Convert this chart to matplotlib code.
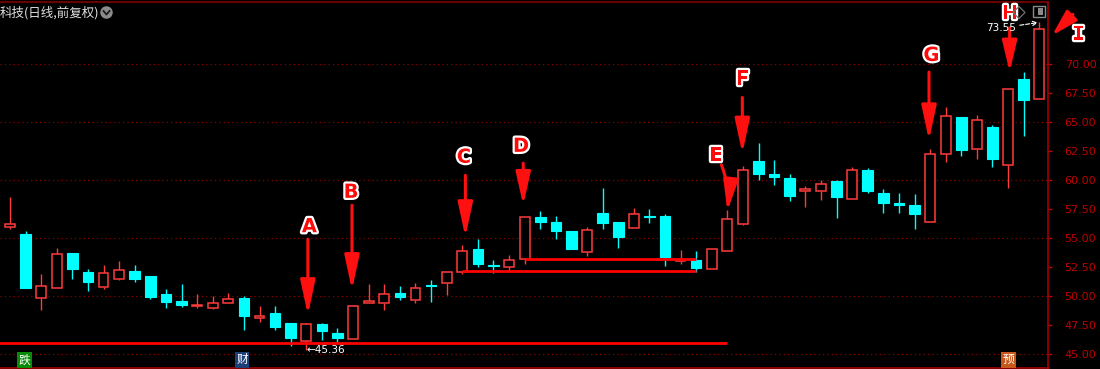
import matplotlib
matplotlib.use('Agg')
import matplotlib.pyplot as plt
from matplotlib.patches import FancyArrowPatch, ArrowStyle, Ellipse, Rectangle
from matplotlib.lines import Line2D
import matplotlib.patheffects as pe

plt.rcParams['font.family'] = ['DejaVu Sans', 'Noto Sans CJK SC']

# ---------------- data (daily OHLC) ----------------
opens = [55.96, 55.33, 49.89, 50.72, 53.70, 52.07, 50.81, 51.52, 52.15, 51.78,
         50.23, 49.55, 49.15, 49.00, 49.46, 49.83, 48.09, 48.52, 47.74, 46.14,
         47.57, 46.80, 46.28, 49.45, 49.38, 50.26, 49.69, 50.95, 51.15, 52.10,
         54.04, 52.70, 52.53, 53.16, 56.79, 56.36, 55.59, 53.81, 57.14, 56.36,
         55.90, 56.88, 56.88, 53.00, 53.10, 52.35, 53.85, 56.25, 61.61, 60.49,
         60.15, 59.06, 59.06, 59.89, 58.37, 60.89, 58.89, 58.03, 57.83, 56.40,
         62.27, 65.39, 62.70, 64.53, 61.32, 68.65, 66.99]
highs = [58.54, 55.59, 51.89, 54.13, 53.70, 52.32, 52.67, 53.04, 52.67, 51.78,
         50.61, 51.09, 50.23, 50.06, 50.32, 50.06, 49.15, 49.20, 47.74, 47.74,
         47.66, 47.23, 49.23, 51.01, 51.09, 50.86, 51.15, 51.38, 52.12, 54.39,
         54.90, 53.10, 53.53, 56.85, 57.31, 56.88, 55.59, 55.96, 59.31, 56.36,
         57.59, 57.48, 57.08, 53.96, 53.87, 54.10, 57.40, 61.21, 63.18, 61.69,
         60.49, 59.46, 60.03, 60.03, 61.12, 61.03, 59.26, 58.92, 58.77, 62.64,
         66.28, 65.39, 65.56, 64.76, 67.85, 69.28, 73.55]
lows = [55.82, 50.72, 48.80, 50.72, 51.46, 50.43, 50.61, 51.38, 51.24, 49.72,
        49.00, 49.09, 49.00, 48.89, 49.46, 47.08, 47.80, 47.08, 45.74, 45.36,
        46.22, 46.08, 46.28, 49.38, 48.80, 49.66, 49.43, 49.52, 50.09, 51.90,
        52.53, 52.04, 52.24, 52.75, 55.76, 54.96, 54.07, 53.44, 55.76, 54.16,
        55.90, 56.30, 52.61, 52.73, 52.10, 52.35, 53.85, 56.11, 59.98, 59.55,
        58.20, 57.68, 58.26, 56.74, 58.37, 58.92, 57.17, 57.17, 55.77, 56.40,
        61.55, 62.07, 61.84, 61.12, 59.32, 63.79, 66.99]
closes = [56.25, 50.72, 50.86, 53.67, 52.30, 51.24, 52.04, 52.24, 51.44, 49.95,
          49.52, 49.26, 49.26, 49.46, 49.75, 48.32, 48.29, 47.37, 46.42, 47.57,
          47.03, 46.42, 49.15, 49.55, 50.23, 49.95, 50.75, 50.90, 52.12, 53.87,
          52.78, 52.62, 53.10, 56.85, 56.39, 55.62, 54.07, 55.73, 56.31, 55.10,
          57.05, 56.83, 53.38, 53.10, 52.44, 54.10, 56.68, 60.83, 60.52, 60.26,
          58.63, 59.26, 59.63, 58.54, 60.89, 59.03, 58.03, 57.85, 57.11, 62.27,
          65.47, 62.55, 65.13, 61.81, 67.85, 66.91, 73.00]

price_ticks = [45.0, 47.5, 50.0, 52.5, 55.0, 57.5, 60.0, 62.5, 65.0, 67.5, 70.0]
price_tick_labels = ['45.00', '47.50', '50.00', '52.50', '55.00', '57.50',
                     '60.00', '62.50', '65.00', '67.50', '70.00']
grid_levels = [45.0, 50.0, 55.0, 60.0, 65.0, 70.0]

# horizontal support lines: price level, first candle, last candle
support_levels = [46.00, 53.18, 52.21]
support_start = [-0.7, 33, 29]
support_end = [46, 44, 44]

signal_letters = ['A', 'B', 'C', 'D', 'E', 'F', 'G', 'H', 'I']

title_text = '科技(日线,前复权)'
low_label = '←45.36'
high_label = '73.55'
bottom_marks = ['跌', '财', '预']
bottom_mark_idx = [0.93, 14.88, 64.03]
bottom_mark_colors = ['#078a07', '#1d3f78', '#c8581a']

# ---------------- styling ----------------
RED = '#ff3c3c'
CYAN = '#00ffff'
ARROW_RED = '#ff1010'
AX_RED = '#c00000'

W, H = 1100, 369
fig = plt.figure(figsize=(W / 100, H / 100), dpi=100, facecolor='black')
ax = fig.add_axes([0, 1.5 / H, 1048 / W, 366 / H])
ax.set_facecolor('black')

n = len(opens)
xs = list(range(n))
ax.set_xlim(-0.641, 66.56)
ax.set_ylim(43.87, 75.35)

# grid
for g in grid_levels:
    ax.axhline(g, color='#8a0000', lw=0.9, ls=(0, (1, 2.5)), zorder=0)

# candles
up_x, up_b, up_h, dn_x, dn_b, dn_h = [], [], [], [], [], []
for i in xs:
    o, h, l, c = opens[i], highs[i], lows[i], closes[i]
    top, bot = max(o, c), min(o, c)
    col = RED if c >= o else CYAN
    if h > top:
        ax.vlines(i, top, h, color=col, lw=1.0, zorder=2)
    if l < bot:
        ax.vlines(i, l, bot, color=col, lw=1.0, zorder=2)
    if c >= o:
        up_x.append(i); up_b.append(o); up_h.append(c - o)
    else:
        dn_x.append(i); dn_b.append(c); dn_h.append(o - c)

ax.bar(up_x, up_h, bottom=up_b, width=0.63, facecolor='black',
       edgecolor=RED, linewidth=1.1, zorder=3)
ax.bar(dn_x, dn_h, bottom=dn_b, width=0.68, facecolor=CYAN,
       edgecolor=CYAN, linewidth=0.8, zorder=3)

# support lines
for lvl, s, e in zip(support_levels, support_start, support_end):
    ax.hlines(lvl, s, e, color='#ff0000', lw=2.0, zorder=4)

# axes / ticks
ax.yaxis.tick_right()
ax.set_yticks(price_ticks)
ax.set_yticklabels(price_tick_labels)
ax.tick_params(axis='y', colors=AX_RED, length=3, width=0.9, pad=9,
               labelsize=8, direction='out')
ax.set_xticks([])
ax.spines['left'].set_visible(False)
ax.spines['right'].set_color('#b00000')
ax.spines['bottom'].set_color('#b00000')
ax.spines['top'].set_color('#8a0000')
for s in ['right', 'bottom', 'top']:
    ax.spines[s].set_linewidth(1.1)

# signal letters and arrows (layout positions in candle-index / price space)
letter_pos = [(19.2, 55.98), (21.87, 58.94), (29.11, 61.95), (32.77, 62.89),
              (45.27, 62.11), (46.97, 68.67), (59.09, 70.71), (64.12, 74.28),
              (68.52, 72.52)]
arrow_paths = [((19.1, 54.91), (19.1, 48.38), 0.0, 2.1),
               ((21.93, 57.83), (21.93, 50.53), 0.0, 2.1),
               ((29.2, 60.40), (29.2, 55.08), 0.0, 2.1),
               ((32.91, 61.44), (32.91, 57.83), 0.0, 2.0),
               ((45.62, 61.30), (46.0, 57.31), -0.12, 1.9),
               ((46.96, 67.10), (46.96, 62.27), 0.0, 2.1),
               ((58.93, 69.28), (58.93, 63.41), 0.0, 2.1),
               ((64.1, 73.10), (64.1, 69.28), 0.0, 1.9),
               ((68.16, 74.24), (66.82, 72.43), 0.0, 1.6)]

for p0, p1, rad, hl in arrow_paths:
    arr = FancyArrowPatch(p0, p1,
                          arrowstyle=ArrowStyle('-|>', head_length=hl, head_width=0.45),
                          mutation_scale=10, lw=2.2, color=ARROW_RED,
                          shrinkA=0, shrinkB=0,
                          connectionstyle=f'arc3,rad={rad}',
                          zorder=6, clip_on=False)
    ax.add_patch(arr)

for (lx, ly), letter in zip(letter_pos, signal_letters):
    fam = 'DejaVu Sans Mono' if letter == 'I' else 'DejaVu Sans'
    ax.text(lx, ly, letter, color='#ff0a0a', fontsize=14, fontweight='bold',
            family=fam, ha='center', va='center', zorder=8, clip_on=False,
            path_effects=[pe.withStroke(linewidth=3.2, foreground='white')])

# price labels on extremes
ax.text(19, lows[19], low_label, color='white', fontsize=7.5,
        ha='left', va='center', zorder=7)
ax.annotate(high_label, xy=(66, highs[66]), xytext=(-17, -4),
            textcoords='offset points', color='white', fontsize=7.5,
            ha='right', va='center', zorder=7,
            arrowprops=dict(arrowstyle='->', ls='--', color='white', lw=0.8,
                            shrinkA=1, shrinkB=1))

# bottom event marks
for lab, bx, bc in zip(bottom_marks, bottom_mark_idx, bottom_mark_colors):
    ax.text(bx, 44.52, lab, color='white', fontsize=8.5,
            family=['Noto Sans CJK SC', 'DejaVu Sans'],
            ha='center', va='center', zorder=7,
            bbox=dict(boxstyle='square,pad=0.1', fc=bc, ec='none'))

# title and icons
def fy(y):
    return 1 - y / H

fig.text(0.0, fy(12.5), title_text, color='#e0e0e0', fontsize=9,
         family=['Noto Sans CJK SC', 'DejaVu Sans'], ha='left', va='center')
fig.add_artist(Ellipse((106.5 / W, fy(12.5)), 12.5 / W, 12.5 / H,
                       transform=fig.transFigure, fc='#8a8a8a', ec='none'))
fig.add_artist(Line2D([103.5 / W, 106.5 / W, 109.5 / W],
                      [fy(11), fy(14.5), fy(11)], transform=fig.transFigure,
                      color='#1a1a1a', lw=1.3))
fig.add_artist(Line2D([1013 / W, 1019 / W, 1025 / W, 1019 / W, 1013 / W],
                      [fy(12.5), fy(6.5), fy(12.5), fy(18.5), fy(12.5)],
                      transform=fig.transFigure, color='#707070', lw=0.9, zorder=1))
fig.add_artist(Rectangle((1033 / W, fy(17)), 12 / W, 11 / H,
                         transform=fig.transFigure, fc='none', ec='#8a8a8a', lw=1.0))
fig.add_artist(Rectangle((1038 / W, fy(15)), 5 / W, 7 / H,
                         transform=fig.transFigure, fc='#8a8a8a', ec='none'))

fig.savefig('out.png', dpi=100, facecolor='black')
